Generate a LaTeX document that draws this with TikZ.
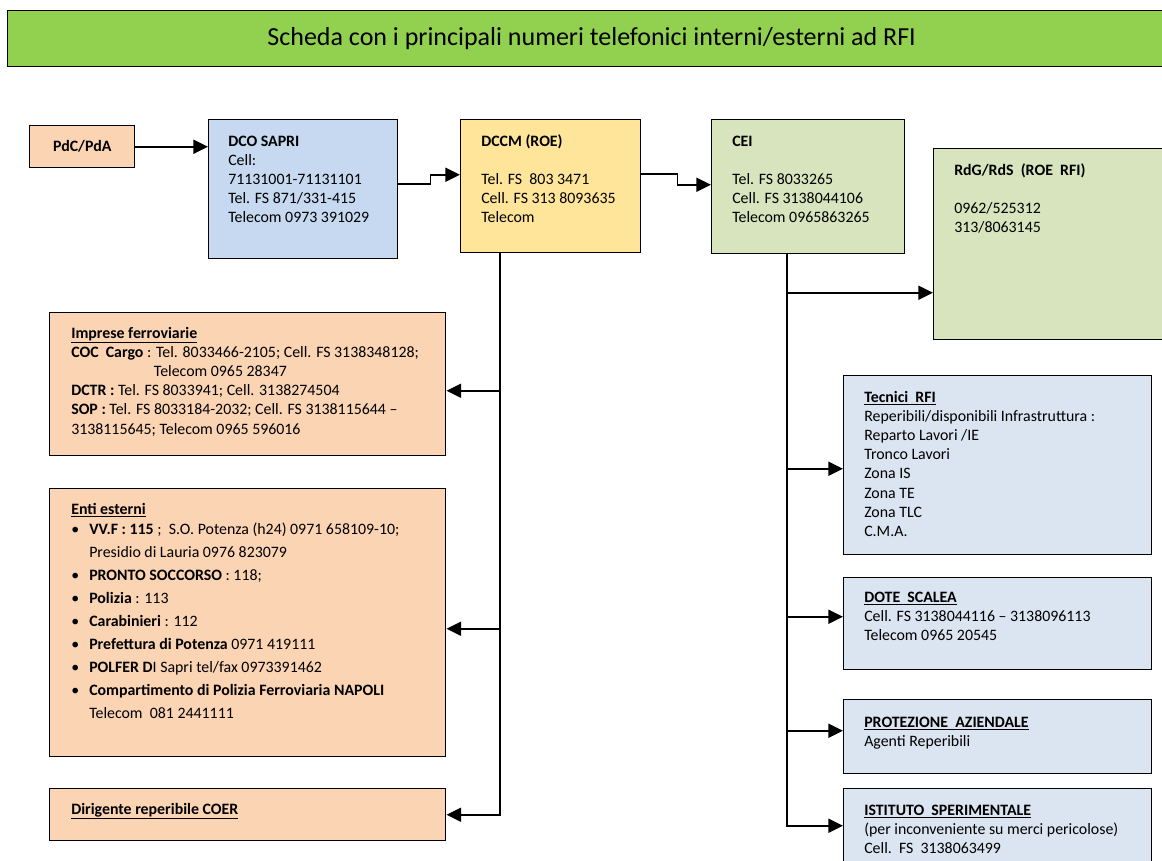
\documentclass[tikz,border=0pt]{standalone}
\usepackage{fontspec}
\setmainfont{Carlito}
\usetikzlibrary{arrows.meta, calc, positioning}
\definecolor{barGreen}{RGB}{146,208,80}
\definecolor{peach}{RGB}{251,212,180}
\definecolor{skyBlue}{RGB}{198,217,241}
\definecolor{paleYellow}{RGB}{255,229,153}
\definecolor{paleOlive}{RGB}{215,228,189}
\definecolor{paleBlue}{RGB}{219,229,241}
\newcommand{\tstrut}{\rule{0pt}{10pt}}
\newcommand{\blt}{\makebox[13.5pt][l]{\textbullet}}
\newcommand{\bltgap}{\hspace*{13.5pt}}

\begin{document}
\begin{tikzpicture}[x=0.75pt, y=-0.75pt,
    telbox/.style={draw=black, line width=1.1pt, fill=#1, anchor=north west, inner sep=0pt},
    boxtext/.style={anchor=north west, inner sep=0pt, align=left, font=\fontsize{11.9}{14.4}\selectfont},
    arr/.style={line width=1.3pt, -{Triangle[length=11pt, width=10.5pt]}}]

        \useasboundingbox (0,0) rectangle (1162,860);
        \clip (0,0) rectangle (1162,860);

        % Title bar
        \node[telbox=barGreen, minimum width=1168*0.75pt, minimum height=56*0.75pt, font=\fontsize{19.5}{22}\selectfont] (title) at (7,10) {Scheda con i principali numeri telefonici interni/esterni ad RFI};

        % Top row
        \node[telbox=peach, minimum width=105*0.75pt, minimum height=42*0.75pt, font=\fontsize{11.9}{14.4}\selectfont\bfseries] (pdc) at (29,125) {PdC/PdA};
        \node[telbox=skyBlue, minimum width=189*0.75pt, minimum height=139*0.75pt] (dco) at (208,119) {};
        \node[boxtext] (dcotext) at ($(dco.north west)+(20,13.5)$) {\tstrut\textbf{DCO SAPRI}\\Cell:\\71131001-71131101\\Tel. FS 871/331-415\\Telecom 0973 391029};
        \node[telbox=paleYellow, minimum width=180*0.75pt, minimum height=133*0.75pt] (dccm) at (460,119) {};
        \node[boxtext] (dccmtext) at ($(dccm.north west)+(21,13.5)$) {\tstrut\textbf{DCCM (ROE)}\\[14.4pt]Tel. FS\ \ 803 3471\\Cell. FS 313 8093635\\Telecom};
        \node[telbox=paleOlive, minimum width=193*0.75pt, minimum height=134*0.75pt] (cei) at (711,119) {};
        \node[boxtext] (ceitext) at ($(cei.north west)+(21,13.5)$) {\tstrut\textbf{CEI}\\[14.4pt]Tel. FS 8033265\\Cell. FS 3138044106\\Telecom 0965863265};
        \node[telbox=paleOlive, minimum width=260*0.75pt, minimum height=191*0.75pt] (rdg) at (933,148) {};
        \node[boxtext] (rdgtext) at ($(rdg.north west)+(21,13.5)$) {\tstrut\textbf{RdG/RdS\ \ (ROE\ \ RFI)}\\[14.4pt]0962/525312\\313/8063145};

        % Left column (from DCCM)
        \node[telbox=peach, minimum width=396*0.75pt, minimum height=143*0.75pt] (imp) at (49,312) {};
        \node[boxtext] (imptext) at ($(imp.north west)+(22,12.5)$) {\tstrut\underline{\textbf{Imprese ferroviarie}}\\\textbf{COC\ \ Cargo} : Tel. 8033466-2105; Cell. FS 3138348128;\\\hspace*{62pt}Telecom 0965 28347\\\textbf{DCTR :} Tel. FS 8033941; Cell. 3138274504\\\textbf{SOP :} Tel. FS 8033184-2032; Cell. FS 3138115644 –\\3138115645; Telecom 0965 596016};
        \node[telbox=peach, minimum width=396*0.75pt, minimum height=268*0.75pt] (enti) at (49,488) {};
        \node[boxtext, font=\fontsize{11.9}{17.25}\selectfont] (entitext) at ($(enti.north west)+(22,12.5)$) {\tstrut\underline{\textbf{Enti esterni}}\\[-2.25pt]
            \blt\textbf{VV.F : 115} ;\ \ S.O. Potenza (h24) 0971 658109-10;\\
            \bltgap Presidio di Lauria 0976 823079\\
            \blt\textbf{PRONTO SOCCORSO} : 118;\\
            \blt\textbf{Polizia} : 113\\
            \blt\textbf{Carabinieri} : 112\\
            \blt\textbf{Prefettura di Potenza} 0971 419111\\
            \blt\textbf{POLFER D}I Sapri tel/fax 0973391462\\
            \blt\textbf{Compartimento di Polizia Ferroviaria NAPOLI}\\
            \bltgap Telecom\ \ 081 2441111};
        \node[telbox=peach, minimum width=396*0.75pt, minimum height=52*0.75pt] (coer) at (49,788) {};
        \node[boxtext] (coertext) at ($(coer.north west)+(22,12.5)$) {\tstrut\underline{\textbf{Dirigente reperibile COER}}};

        % Right column (from CEI)
        \node[telbox=paleBlue, minimum width=308*0.75pt, minimum height=179*0.75pt] (tec) at (843,375) {};
        \node[boxtext] (tectext) at ($(tec.north west)+(21,13.5)$) {\tstrut\underline{\textbf{Tecnici\ \ RFI}}\\Reperibili/disponibili Infrastruttura :\\Reparto Lavori /IE\\Tronco Lavori\\Zona IS\\Zona TE\\Zona TLC\\C.M.A.};
        \node[telbox=paleBlue, minimum width=308*0.75pt, minimum height=92*0.75pt] (dote) at (843,577) {};
        \node[boxtext] (dotetext) at ($(dote.north west)+(21,11.5)$) {\tstrut\underline{\textbf{DOTE\ \ SCALEA}}\\Cell. FS 3138044116 – 3138096113\\Telecom 0965 20545};
        \node[telbox=paleBlue, minimum width=308*0.75pt, minimum height=74*0.75pt] (prot) at (843,699) {};
        \node[boxtext] (prottext) at ($(prot.north west)+(21,14.5)$) {\tstrut\underline{\textbf{PROTEZIONE\ \ AZIENDALE}}\\Agenti Reperibili};
        \node[telbox=paleBlue, minimum width=308*0.75pt, minimum height=74*0.75pt] (ist) at (843,788) {};
        \node[boxtext] (isttext) at ($(ist.north west)+(21,13.5)$) {\tstrut\underline{\textbf{ISTITUTO\ \ SPERIMENTALE}}\\(per inconveniente su merci pericolose)\\Cell.\ \ FS\ \ 3138063499};

        % Connectors along the top
        \draw[arr] (pdc.east) -- (pdc.east -| dco.west);
        \draw[arr] ($(dco.east)+(0,-5.5)$) -- ++(32,0) |- ($(dccm.west)+(0,-11.5)$);
        \draw[arr] ($(dccm.east)+(0,-12.5)$) -- ++(36,0) |- ($(cei.west)+(0,-2)$);

        % DCCM trunk
        \coordinate (dtop) at ($(dccm.south west)+(40,0)$);
        \draw[arr] (dtop) |- (coer.east);
        \draw[arr] ($(dtop |- imp.east)+(0,6.5)$) -- ($(imp.east)+(0,6.5)$);
        \draw[arr] ($(dtop |- enti.east)+(0,6)$) -- ($(enti.east)+(0,6)$);

        % CEI trunk
        \coordinate (ctop) at ($(cei.south west)+(76,0)$);
        \draw[arr] (ctop) |- (ist.west);
        \draw[arr] ($(ctop |- rdg.west)+(0,48.5)$) -- ($(rdg.west)+(0,48.5)$);
        \draw[arr] ($(ctop |- tec.west)+(0,3.5)$) -- ($(tec.west)+(0,3.5)$);
        \draw[arr] ($(ctop |- dote.west)+(0,-7)$) -- ($(dote.west)+(0,-7)$);
        \draw[arr] ($(ctop |- prot.west)+(0,-6)$) -- ($(prot.west)+(0,-6)$);
\end{tikzpicture}
\end{document}
